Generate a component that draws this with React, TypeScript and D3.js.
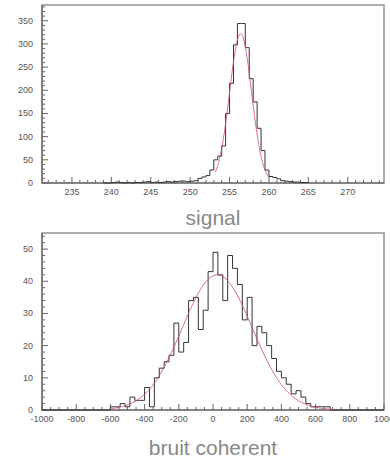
import React from "react";
import * as d3 from "d3";

// ---- signal histogram (bin width 0.5, first bin starts at 239) ----
const signalBinStart = 239;
const signalBinWidth = 0.5;
const signalCounts = [
  0, 0, 1, 2, 1, 0, 1, 0, 1, 1,
  2, 3, 1, 2, 1, 2, 3, 2, 3, 4,
  4, 3, 4, 5, 10, 13, 16, 28, 50, 58,
  80, 150, 215, 298, 344, 344, 292, 225, 175, 118,
  70, 28, 14, 12, 9, 5, 4, 3, 2, 2,
  1, 1,
];
// gaussian fit drawn over the signal peak: [amplitude, mean, sigma]
const signalFit = [322, 256.4, 1.4];
const signalFitRange = [253.2, 260.0];
const signalXTicks = [235, 240, 245, 250, 255, 260, 265, 270];
const signalYTicks = [0, 50, 100, 150, 200, 250, 300, 350];

// ---- coherent noise histogram (70 bins over -1000..1000) ----
const noiseBinStart = -1000;
const noiseBinWidth = 2000 / 70;
const noiseCounts = [
  0, 0, 0, 0, 0, 0, 0, 0, 0, 0,
  0, 0, 0, 0, 1, 1, 2, 1, 4, 3,
  3, 7, 1, 10, 13, 15, 17, 27, 18, 21,
  34, 35, 25, 31, 43, 49, 42, 34, 48, 44,
  39, 28, 35, 20, 26, 24, 20, 16, 12, 10,
  8, 5, 6, 4, 2, 1, 1, 1, 1, 0,
  0, 0, 0, 0, 0, 0, 0, 0, 0, 0,
];
const noiseFit = [42, 25, 205];
const noiseFitRange = [-600, 700];
const noiseXTicks = [-1000, -800, -600, -400, -200, 0, 200, 400, 600, 800, 1000];
const noiseYTicks = [0, 10, 20, 30, 40, 50];

type PanelProps = {
  counts: number[];
  binStart: number;
  binWidth: number;
  fit: number[];
  fitRange: number[];
  xDomain: [number, number];
  yMax: number;
  top: number;
  bottom: number;
  xTicks: number[];
  yTicks: number[];
  xMinorStep: number;
  yMinorStep: number;
  title: string;
  titleY: number;
};

const LEFT = 42;
const RIGHT = 384;

function Panel(p: PanelProps) {
  const x = d3.scaleLinear().domain(p.xDomain).range([LEFT, RIGHT]);
  const y = d3.scaleLinear().domain([0, p.yMax]).range([p.bottom, p.top]);

  // outline of the histogram as a step path
  const pts: [number, number][] = [];
  p.counts.forEach((c, i) => {
    const x0 = p.binStart + i * p.binWidth;
    pts.push([x0, c]);
  });
  const last = p.counts[p.counts.length - 1];
  pts.push([p.binStart + p.counts.length * p.binWidth, last]);
  const histLine = d3
    .line<[number, number]>()
    .x((d) => x(d[0]))
    .y((d) => y(d[1]))
    .curve(d3.curveStepAfter);

  const [amp, mu, sig] = p.fit;
  const fitPts: [number, number][] = d3
    .range(0, 201)
    .map((k) => {
      const v = p.fitRange[0] + ((p.fitRange[1] - p.fitRange[0]) * k) / 200;
      return [v, amp * Math.exp(-((v - mu) ** 2) / (2 * sig * sig))];
    });
  const fitLine = d3
    .line<[number, number]>()
    .x((d) => x(d[0]))
    .y((d) => y(d[1]))
    .curve(d3.curveLinear);

  const xMinor = d3
    .range(
      Math.ceil(p.xDomain[0] / p.xMinorStep) * p.xMinorStep,
      p.xDomain[1] + 1e-9,
      p.xMinorStep
    )
    .filter((v) => !p.xTicks.includes(v));
  const yMinor = d3
    .range(0, p.yMax + 1e-9, p.yMinorStep)
    .filter((v) => !p.yTicks.includes(v));

  const tickColor = "#666";
  const labelStyle = {
    fontFamily: "Liberation Sans, Arial, sans-serif",
    fontSize: 9,
    fill: "#555",
  } as const;

  return (
    <g>
      {/* frame */}
      <rect
        x={LEFT}
        y={p.top}
        width={RIGHT - LEFT}
        height={p.bottom - p.top}
        fill="none"
        stroke="#999"
        strokeWidth={1.6}
      />
      <line x1={LEFT} x2={LEFT} y1={p.top} y2={p.bottom} stroke="#777" strokeWidth={1.6} />
      <line x1={LEFT} x2={RIGHT} y1={p.bottom} y2={p.bottom} stroke="#777" strokeWidth={1.6} />

      {/* x ticks */}
      {xMinor.map((v) => (
        <line key={"xm" + v} x1={x(v)} x2={x(v)} y1={p.bottom} y2={p.bottom - 3} stroke={tickColor} strokeWidth={1} />
      ))}
      {p.xTicks.map((v) => (
        <g key={"xt" + v}>
          <line x1={x(v)} x2={x(v)} y1={p.bottom} y2={p.bottom - 6} stroke={tickColor} strokeWidth={1} />
          <text x={x(v)} y={p.bottom + 12} textAnchor="middle" {...labelStyle}>
            {v}
          </text>
        </g>
      ))}

      {/* y ticks */}
      {yMinor.map((v) => (
        <line key={"ym" + v} x1={LEFT} x2={LEFT + 3} y1={y(v)} y2={y(v)} stroke={tickColor} strokeWidth={1} />
      ))}
      {p.yTicks.map((v) => (
        <g key={"yt" + v}>
          <line x1={LEFT} x2={LEFT + 6} y1={y(v)} y2={y(v)} stroke={tickColor} strokeWidth={1} />
          <text x={33} y={y(v) + 3} textAnchor="end" {...labelStyle}>
            {v}
          </text>
        </g>
      ))}

      {/* histogram */}
      <path d={histLine(pts) ?? ""} fill="none" stroke="#333" strokeWidth={1} />
      {/* fit */}
      <path d={fitLine(fitPts) ?? ""} fill="none" stroke="#d0506a" strokeWidth={1} opacity={0.85} />

      <text
        x={213}
        y={p.titleY}
        textAnchor="middle"
        fontFamily="Liberation Sans, Arial, sans-serif"
        fontSize={21}
        fill="#888"
      >
        {p.title}
      </text>
    </g>
  );
}

export default function App() {
  return (
    <svg
      width={390}
      height={463}
      style={{ position: "absolute", left: 0, top: 0, background: "#fff" }}
    >
      <rect width={390} height={463} fill="#fff" />
      <Panel
        counts={signalCounts}
        binStart={signalBinStart}
        binWidth={signalBinWidth}
        fit={signalFit}
        fitRange={signalFitRange}
        xDomain={[231.2, 274.6]}
        yMax={384}
        top={5}
        bottom={183}
        xTicks={signalXTicks}
        yTicks={signalYTicks}
        xMinorStep={1}
        yMinorStep={10}
        title="signal"
        titleY={225}
      />
      <Panel
        counts={noiseCounts}
        binStart={noiseBinStart}
        binWidth={noiseBinWidth}
        fit={noiseFit}
        fitRange={noiseFitRange}
        xDomain={[-1000, 1000]}
        yMax={55}
        top={233}
        bottom={410}
        xTicks={noiseXTicks}
        yTicks={noiseYTicks}
        xMinorStep={50}
        yMinorStep={2}
        title="bruit coherent"
        titleY={455}
      />
    </svg>
  );
}
